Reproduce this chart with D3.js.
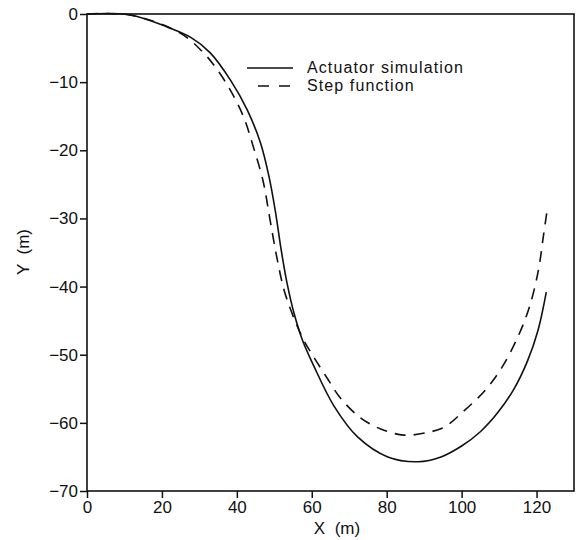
<!DOCTYPE html>
<meta charset="utf-8">
<style>
  body { margin: 0; background: #fff; }
  text { font-family: "Liberation Sans", Arial, sans-serif; fill: #111; }
</style>
<body>
<script src="https://cdn.jsdelivr.net/npm/d3@7"></script>
<script>

    var width = 582,
        height = 540;

    // trajectory (X m, Y m)
    var actuatorX = [0, 11.5, 21.4, 27.6, 32.9, 38.3, 42.8, 46.3, 48.6, 50.3, 51.8, 53.4, 55.3, 57.6, 60.5, 65.9, 72.3, 80.3, 88.4, 94.5, 100.0, 105.0, 109.5, 113.8, 117.6, 120.4, 122.6];
    var actuatorY = [0, -0.15, -1.9, -3.4, -5.7, -9.7, -14.1, -18.9, -23.9, -29.0, -34.5, -39.5, -44.0, -48.0, -51.6, -57.5, -62.1, -65.0, -65.7, -65.0, -63.4, -61.3, -58.6, -55.2, -50.9, -46.4, -40.8];

    var stepX = [0, 11.5, 24.9, 31.1, 34.8, 38.3, 41.8, 44.4, 47.0, 48.8, 50.6, 52.6, 55.0, 57.8, 60.7, 64.3, 67.7, 73.1, 78.4, 84.6, 91.0, 95.5, 100.5, 106.0, 110.6, 115.0, 118.1, 120.5, 121.8, 122.9];
    var stepY = [0, -0.15, -2.8, -5.7, -8.2, -11.2, -15.1, -19.5, -24.5, -30.0, -35.5, -40.5, -44.3, -47.8, -50.5, -53.6, -56.4, -59.3, -60.9, -61.8, -61.4, -60.6, -58.3, -55.4, -52.0, -47.4, -43.0, -37.6, -32.7, -28.5];

    var xTicks = [0, 20, 40, 60, 80, 100, 120];
    var yTicks = [0, -10, -20, -30, -40, -50, -60, -70];
    var legendLabels = ["Actuator simulation", "Step function"];

    var x = d3.scaleLinear().domain([0, 130]).range([87, 574]);
    var y = d3.scaleLinear().domain([-70, 0]).range([491, 14]);

    var svg = d3.select("body").append("svg")
            .attr("width", width)
            .attr("height", height);

    // frame
    svg.append("rect")
            .attr("x", x(0)).attr("y", y(0))
            .attr("width", x(130) - x(0)).attr("height", y(-70) - y(0))
            .attr("fill", "none").attr("stroke", "#111").attr("stroke-width", 1.6);

    // axes
    var xAxis = svg.append("g")
            .attr("transform", "translate(0," + y(-70) + ")")
            .call(d3.axisBottom(x).tickValues(xTicks).tickSize(7).tickPadding(3).tickFormat(d3.format("d")));
    var yAxis = svg.append("g")
            .attr("transform", "translate(" + x(0) + ",0)")
            .call(d3.axisLeft(y).tickValues(yTicks).tickSize(7).tickPadding(2).tickFormat(function(d){ return d < 0 ? "\u2212" + (-d) : d; }));

    [xAxis, yAxis].forEach(function(g) {
        g.select(".domain").remove();
        g.selectAll("line").attr("stroke", "#111").attr("stroke-width", 1.5);
        g.selectAll("text").attr("font-size", 17).style("font-family", "Liberation Sans, Arial, sans-serif").attr("fill", "#111");
    });

    // axis titles
    svg.append("text")
            .attr("x", 337).attr("y", 534)
            .attr("text-anchor", "middle")
            .attr("font-size", 17)
            .attr("xml:space", "preserve")
            .text("X  (m)");
    svg.append("text")
            .attr("transform", "translate(29,252) rotate(-90)")
            .attr("text-anchor", "middle")
            .attr("font-size", 17)
            .attr("xml:space", "preserve")
            .text("Y  (m)");

    var line = d3.line()
            .x(function(d){ return x(d[0]); })
            .y(function(d){ return y(d[1]); })
            .curve(d3.curveCatmullRom.alpha(0.5));

    svg.append("path")
            .datum(d3.zip(actuatorX, actuatorY))
            .attr("d", line)
            .attr("fill", "none").attr("stroke", "#111").attr("stroke-width", 1.6);

    svg.append("path")
            .datum(d3.zip(stepX, stepY))
            .attr("d", line)
            .attr("fill", "none").attr("stroke", "#111").attr("stroke-width", 1.6)
            .attr("stroke-dasharray", "11,8");

    // legend
    var legend = svg.append("g");
    legend.append("line")
            .attr("x1", 247).attr("x2", 293).attr("y1", 68).attr("y2", 68)
            .attr("stroke", "#111").attr("stroke-width", 1.6);
    legend.append("line")
            .attr("x1", 258).attr("x2", 292).attr("y1", 86).attr("y2", 86)
            .attr("stroke", "#111").attr("stroke-width", 1.6)
            .attr("stroke-dasharray", "11,10");
    legend.selectAll("text.lab")
            .data(legendLabels)
            .enter().append("text")
            .attr("class", "lab")
            .attr("x", 307)
            .attr("y", function(d, i){ return 73 + i * 18; })
            .attr("font-size", 16)
            .style("letter-spacing", "1.1px")
            .text(function(d){ return d; });

</script>
